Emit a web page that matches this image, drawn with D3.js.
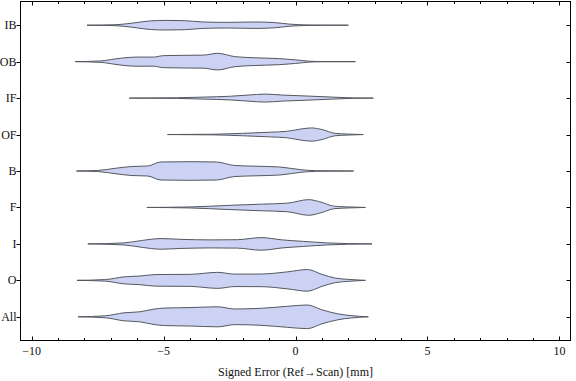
<!DOCTYPE html>
<html>
<head>
<meta charset="utf-8">
<script src="https://cdn.jsdelivr.net/npm/d3@7"></script>
<style>
  body { margin: 0; background: #fff; }
  text { font-family: "Liberation Serif", "DejaVu Serif", serif; }
</style>
</head>
<body>
<div id="chart"></div>
<script>
    // categories, top to bottom
    var categories = ["IB", "OB", "IF", "OF", "B", "F", "I", "O", "All"];

    // violin outlines: [signed error in mm, relative density]
    var densIB = [[-7.9,0],[-6.8,0.5],[-6.2,2],[-5.5,4.3],[-4.9,4.8],[-4.2,4.5],[-3.5,3.2],[-2.6,2.8],[-1.5,3.2],[-0.8,2.6],[-0.2,1],[0.4,0.3],[1.0,0.05],[2.0,0]];
    var densOB = [[-8.35,0],[-7.4,0.7],[-6.6,3.5],[-6.0,4.6],[-5.4,4.5],[-5.0,6.0],[-4.3,6.3],[-3.5,6.5],[-2.95,8.3],[-2.3,5],[-1.5,3.8],[-0.6,3],[0.0,1.8],[0.5,0.5],[1.0,0.1],[2.27,0]];
    var densIF = [[-6.3,0],[-4.5,0.3],[-3.5,1.0],[-2.5,1.8],[-1.8,3.0],[-1.15,4.0],[-0.5,3.0],[0.5,2.0],[1.4,1.0],[2.2,0.2],[2.95,0]];
    var densOF = [[-4.85,0],[-3.2,0.3],[-2.0,1.2],[-1.0,2.3],[-0.3,3.3],[0.2,5.5],[0.6,6.6],[1.0,5],[1.5,1.2],[2.0,0.5],[2.57,0]];
    var densB = [[-8.3,0],[-7.5,0.5],[-6.8,2.8],[-6.2,4.5],[-5.6,5.0],[-5.1,9.0],[-4.0,9.3],[-3.0,9.0],[-2.3,5.5],[-1.5,4.8],[-0.6,4.0],[0.2,1.3],[0.8,0.3],[2.2,0]];
    var densF = [[-5.63,0],[-4.0,0.5],[-2.6,2.0],[-1.3,3.3],[-0.3,4.3],[0.5,7.8],[1.0,5],[1.45,1.3],[2.0,0.5],[2.65,0]];
    var densI = [[-7.87,0],[-6.5,1],[-5.8,3.5],[-5.1,5.3],[-4.3,4.5],[-3.2,4],[-2.2,4.2],[-1.3,6.3],[-0.5,4],[0.3,2.5],[1.2,1.0],[2.0,0.3],[2.9,0]];
    var densO = [[-8.28,0],[-7.2,0.8],[-6.5,3.5],[-5.9,4.3],[-5.3,5.8],[-4.0,6.0],[-2.95,8.0],[-2.3,6.2],[-1.3,6.3],[-0.3,8.5],[0.45,10.8],[1.0,6],[1.5,2.3],[2.0,1.0],[2.65,0]];
    var densAll = [[-8.24,0],[-7.2,1],[-6.5,4.0],[-5.9,5],[-5.4,7.5],[-5.0,8.7],[-4.0,9.2],[-2.95,10.0],[-2.3,7.8],[-1.3,8.5],[-0.3,10.5],[0.45,11.8],[1.0,7],[1.6,3],[2.1,1.2],[2.76,0]];

    var xMajorTicks = [-10, -5, 0, 5, 10];
    var xMinorTicks = d3.range(-10, 11, 1);
    var xTitle = "Signed Error (Ref\u2192Scan) [mm]";

    var violins = [densIB, densOB, densIF, densOF, densB, densF, densI, densO, densAll];

    var W = 576, H = 381;
    var plot = { left: 20.5, right: 570.5, top: 1.5, bottom: 340.5 };

    const svg = d3.select("#chart").append("svg")
      .attr("width", W).attr("height", H);

    var x = d3.scaleLinear().domain([-10.42, 10.42]).range([plot.left, plot.right]);
    var y = d3.scalePoint().domain(categories).range([plot.top, plot.bottom]).padding(0.65);
    var w = d3.scaleLinear().domain([0, 12]).range([0, y.step() * 0.33]);

    // violins
    categories.forEach(function (cat, i) {
      var cy = y(cat);
      var area = d3.area()
        .x(d => x(d[0]))
        .y0(d => cy - w(d[1]))
        .y1(d => cy + w(d[1]))
        .curve(d3.curveMonotoneX);
      svg.append("path")
        .datum(violins[i])
        .attr("d", area)
        .attr("fill", "#cbd2f4")
        .attr("stroke", "#55585f")
        .attr("stroke-width", 1);
    });

    // frame
    svg.append("rect")
      .attr("x", plot.left).attr("y", plot.top)
      .attr("width", plot.right - plot.left)
      .attr("height", plot.bottom - plot.top)
      .attr("fill", "none").attr("stroke", "#000").attr("stroke-width", 1);

    // bottom and top ticks, pointing inward
    var tickG = svg.append("g").attr("stroke", "#000").attr("stroke-width", 1);
    xMinorTicks.forEach(function (t) {
      var len = xMajorTicks.indexOf(t) >= 0 ? 4 : 2.5;
      var px = Math.round(x(t)) + 0.5;
      tickG.append("line").attr("x1", px).attr("x2", px)
        .attr("y1", plot.bottom).attr("y2", plot.bottom - len);
      tickG.append("line").attr("x1", px).attr("x2", px)
        .attr("y1", plot.top).attr("y2", plot.top + len);
    });

    // left ticks outward, right ticks inward
    categories.forEach(function (cat) {
      var py = Math.round(y(cat)) + 0.5;
      tickG.append("line").attr("x1", plot.left - 4).attr("x2", plot.left)
        .attr("y1", py).attr("y2", py);
      tickG.append("line").attr("x1", plot.right - 4).attr("x2", plot.right)
        .attr("y1", py).attr("y2", py);
    });

    // tick labels
    svg.append("g").selectAll("text")
      .data(xMajorTicks).enter().append("text")
      .attr("x", d => x(d))
      .attr("y", plot.bottom + 14)
      .attr("text-anchor", "middle")
      .attr("font-size", 12)
      .attr("fill", "#111")
      .text(d => d < 0 ? "\u2212" + Math.abs(d) : d);

    svg.append("g").selectAll("text")
      .data(categories).enter().append("text")
      .attr("x", plot.left - 4)
      .attr("y", d => y(d) + 4)
      .attr("text-anchor", "end")
      .attr("font-size", 12)
      .attr("fill", "#111")
      .text(d => d);

    svg.append("text")
      .attr("x", x(0))
      .attr("y", 376)
      .attr("text-anchor", "middle")
      .attr("font-size", 12)
      .attr("fill", "#111")
      .text(xTitle);
</script>
</body>
</html>
